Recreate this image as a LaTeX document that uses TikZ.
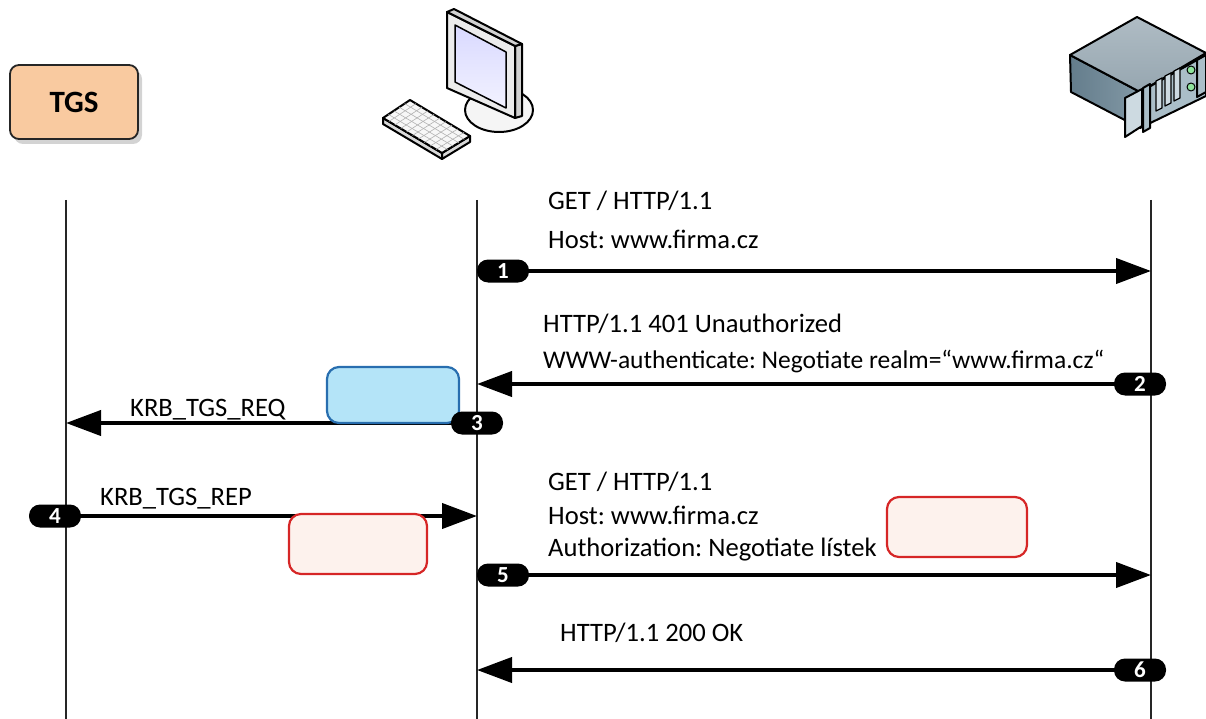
\documentclass[tikz,border=0pt]{standalone}
\usepackage{fontspec}
\setmainfont{Carlito}
\frenchspacing
\usetikzlibrary{arrows.meta,shadows,shadows.blur,calc}
\definecolor{tgsfill}{RGB}{249,202,160}
\definecolor{notered}{RGB}{214,38,38}
\definecolor{notepink}{RGB}{253,242,237}
\definecolor{noteblue}{RGB}{40,110,175}
\definecolor{notecyan}{RGB}{180,228,248}
\definecolor{srvtop}{RGB}{150,166,176}
\definecolor{srvtoplight}{RGB}{175,188,196}
\definecolor{srvside}{RGB}{100,125,140}
\definecolor{srvsidelight}{RGB}{130,152,165}
\definecolor{srvfront}{RGB}{170,190,200}
\definecolor{srvbay}{RGB}{205,218,225}
\begin{document}
\begin{tikzpicture}[x=1pt,y=-1pt,
  lifeline/.style={line width=1.8pt,black!85},
  msg/.style={line width=4pt,-{Triangle[length=35pt,width=25pt]}},
  badge/.style={fill=black,text=white,rounded corners=11pt,minimum width=52pt,
    minimum height=23pt,inner sep=0pt,font=\fontsize{23}{23}\selectfont\bfseries},
  lbl/.style={anchor=west,inner sep=0pt,font=\fontsize{26.6}{26.6}\selectfont},
  note/.style={rounded corners=12pt,line width=2.2pt},
  bluenote/.style={note,draw=noteblue,fill=notecyan},
  rednote/.style={note,draw=notered,fill=notepink}]
\useasboundingbox (0,0) rectangle (1206,719);

% ---- TGS box
\node[draw=black!85,line width=1.8pt,fill=tgsfill,rounded corners=9pt,
  minimum width=128pt,minimum height=74pt,
  drop shadow={opacity=0.35,shadow xshift=4pt,shadow yshift=-5pt},
  font=\fontsize{31}{31}\selectfont\bfseries] (tgs) at (74,102) {TGS};

% ---- client workstation
\begin{scope}[line join=round,line width=2pt]
  % stand base
  \draw[fill=gray!8] (499,110) ellipse [x radius=34, y radius=22];
  % monitor side
  \draw[fill=gray!35] (515,46) -- (522,44) -- (522,116) -- (515,118) -- cycle;
  % monitor front frame
  \draw[fill=gray!15] (447,12) -- (515,46) -- (515,118) -- (447,88) -- cycle;
  \draw[fill=gray!35] (447,12) -- (454,9) -- (522,44) -- (515,46) -- cycle;
  % screen
  \shade[top color=blue!15,bottom color=blue!5,draw=black,line width=1.5pt]
    (455,25) -- (506,52) -- (506,108) -- (455,82) -- cycle;
  % keyboard
  \draw[fill=gray!30] (383,118) -- (442,153) -- (442,159) -- (383,124) -- cycle;
  \draw[fill=gray!30] (442,153) -- (470,136) -- (470,142) -- (442,159) -- cycle;
  \draw[fill=gray!6] (383,118) -- (410,100) -- (470,136) -- (442,153) -- cycle;
  \foreach \i in {1,...,4}{
    \draw[gray!60,line width=0.6pt] ($(383,118)!\i/5!(410,100)$) -- ($(442,153)!\i/5!(470,136)$);
  }
  \foreach \j in {1,...,9}{
    \draw[gray!60,line width=0.6pt] ($(383,118)!\j/10!(442,153)$) -- ($(410,100)!\j/10!(470,136)$);
  }
\end{scope}

% ---- server
\begin{scope}[line join=round,line width=2pt]
  \shade[left color=srvside,right color=srvsidelight,draw=black]
    (1070,55) -- (1140,92) -- (1140,128) -- (1071,92) -- cycle;
  \shade[top color=srvtoplight,bottom color=srvtop,draw=black]
    (1070,55) -- (1137,17) -- (1206,53) -- (1140,92) -- cycle;
  \fill[srvfront,draw=black] (1140,92) -- (1206,55) -- (1206,96) -- (1140,128) -- cycle;
  % rack ear and handles
  \draw[fill=srvbay] (1125,98) -- (1142,89) -- (1142,126) -- (1125,137) -- cycle;
  \draw[fill=srvfront] (1143,88) -- (1150,84) -- (1150,128) -- (1143,132) -- cycle;
  \draw[fill=srvfront] (1197,60) -- (1206,55) -- (1206,92) -- (1197,97) -- cycle;
  % drive bays
  \foreach \k in {0,1,2}{
    \draw[fill=srvbay,line width=1.2pt] (1156+9*\k,81-5*\k) -- (1162+9*\k,78-5*\k)
      -- (1162+9*\k,108-5*\k) -- (1156+9*\k,111-5*\k) -- cycle;
  }
  \draw[fill=green!30!srvbay,line width=1pt] (1191,70) circle (4);
  \draw[fill=green!30!srvbay,line width=1pt] (1191,87) circle (4);
\end{scope}

% ---- lifelines
\coordinate (tgsTop) at (66,200);  \coordinate (tgsBot) at (66,719);
\coordinate (cliTop) at (477,200); \coordinate (cliBot) at (477,719);
\coordinate (srvTop) at (1151,200); \coordinate (srvBot) at (1151,719);
\draw[lifeline] (tgsTop) -- (tgsBot);
\draw[lifeline] (cliTop) -- (cliBot);
\draw[lifeline] (srvTop) -- (srvBot);

% ---- message end points
\coordinate (c1) at (477,271); \coordinate (s1) at (1151,271);
\coordinate (s2) at (1151,384); \coordinate (c2) at (477,384);
\coordinate (c3) at (477,423); \coordinate (t3) at (66,423);
\coordinate (t4) at (66,516); \coordinate (c4) at (477,516);
\coordinate (c5) at (477,575); \coordinate (s5) at (1151,575);
\coordinate (s6) at (1151,670); \coordinate (c6) at (477,670);

\draw[msg] (c1) -- (s1);
\draw[msg] (s2) -- (c2);
\draw[msg] (c3) -- (t3);
\draw[msg] (t4) -- (c4);
\draw[msg] (c5) -- (s5);
\draw[msg] (s6) -- (c6);

% ---- token boxes
\node[bluenote,minimum width=132pt,minimum height=56pt] (req) at (393,395) {};
\node[rednote,minimum width=138pt,minimum height=60pt] (rep) at (358,544) {};
\node[rednote,minimum width=140pt,minimum height=60pt] (auth) at (957,527) {};

% ---- step badges
\node[badge] (b1) at (503,271) {1};
\node[badge] (b2) at (1140,384) {2};
\node[badge] (b3) at (477,423) {3};
\node[badge] (b4) at (55,516) {4};
\node[badge] (b5) at (503,575) {5};
\node[badge] (b6) at (1140,670) {6};

% ---- message texts
\node[lbl] (m1a) at (548,201) {GET / HTTP/1.1};
\node[lbl] (m1b) at (548,239) {Host: www.firma.cz};
\node[lbl] (m2a) at (543,324) {HTTP/1.1 401 Unauthorized};
\node[lbl,font=\fontsize{25.5}{25.5}\selectfont] (m2b) at (543,361)
  {WWW-authenticate: Negotiate realm=“www.firma.cz“};
\node[lbl] (m3) at (130,410) {KRB\_TGS\_REQ};
\node[lbl] (m4) at (100,499) {KRB\_TGS\_REP};
\node[lbl] (m5a) at (548,482) {GET / HTTP/1.1};
\node[lbl] (m5b) at (548,515) {Host: www.firma.cz};
\node[lbl] (m5c) at (548,550) {Authorization: Negotiate lístek};
\node[lbl] (m6) at (560,633) {HTTP/1.1 200 OK};
\end{tikzpicture}
\end{document}
